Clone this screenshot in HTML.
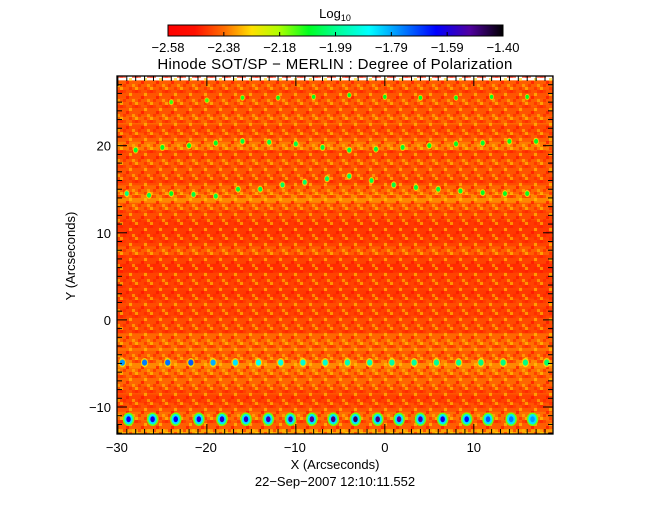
<!DOCTYPE html>
<html><head><meta charset="utf-8"><style>
body{margin:0;background:#fff;}
svg{display:block;font-family:"Liberation Sans",sans-serif;}
</style></head><body>
<svg id="chart" width="670" height="512" viewBox="0 0 670 512">
<defs>
<linearGradient id="cmap" x1="0" x2="1" y1="0" y2="0">
<stop offset="0" stop-color="#ff0000"/><stop offset="0.08" stop-color="#ff1000"/>
<stop offset="0.17" stop-color="#ff7000"/><stop offset="0.25" stop-color="#ffe000"/>
<stop offset="0.33" stop-color="#b0ff00"/><stop offset="0.42" stop-color="#00ff20"/>
<stop offset="0.5" stop-color="#00ff90"/><stop offset="0.6" stop-color="#00ffff"/>
<stop offset="0.7" stop-color="#0080ff"/><stop offset="0.8" stop-color="#0000ff"/>
<stop offset="0.9" stop-color="#5000a0"/><stop offset="1" stop-color="#000000"/>
</linearGradient>
<pattern id="tex" width="15" height="15" patternUnits="userSpaceOnUse">
<rect x="0" y="0" width="3" height="3" fill="#ff1800" opacity="0.7"/>
<rect x="3" y="0" width="3" height="3" fill="#ff3000" opacity="0.6"/>
<rect x="9" y="3" width="3" height="3" fill="#ffd800" opacity="0.6"/>
<rect x="6" y="6" width="3" height="3" fill="#ff1000" opacity="0.7"/>
<rect x="12" y="9" width="3" height="3" fill="#ffc000" opacity="0.6"/>
<rect x="0" y="12" width="3" height="3" fill="#ffe800" opacity="0.5"/>
<rect x="3" y="9" width="3" height="3" fill="#ff2000" opacity="0.6"/>
<rect x="12" y="0" width="3" height="3" fill="#ff2800" opacity="0.6"/>
<rect x="9" y="12" width="3" height="3" fill="#ff2000" opacity="0.6"/>
</pattern>
<clipPath id="plotclip"><rect x="117" y="76" width="436" height="358"/></clipPath>
</defs>
<g id="heat" clip-path="url(#plotclip)"></g>
<rect x="117" y="76" width="436" height="358" fill="url(#tex)"/>
<g id="spots" clip-path="url(#plotclip)"></g>
<rect x="117" y="76" width="436" height="358" fill="none" stroke="#000" stroke-width="1.3"/>
<g id="axes"></g>
<text x="335" y="18" text-anchor="middle" font-size="13">Log<tspan font-size="9" dy="3">10</tspan></text>
<rect x="168" y="25" width="335" height="11" fill="url(#cmap)" stroke="#000" stroke-width="1"/>
<g id="cbar"></g>
<text x="335" y="69" text-anchor="middle" font-size="15" letter-spacing="0.3">Hinode SOT/SP − MERLIN : Degree of Polarization</text>
<text x="335" y="469" text-anchor="middle" font-size="13">X (Arcseconds)</text>
<text x="335" y="486" text-anchor="middle" font-size="13">22−Sep−2007 12:10:11.552</text>
<text x="0" y="0" transform="translate(75,256) rotate(-90)" text-anchor="middle" font-size="13">Y (Arcseconds)</text>
</svg>
<script>
const cbarLabels=["−2.58","−2.38","−2.18","−1.99","−1.79","−1.59","−1.40"];
const xTicks=[-30,-20,-10,0,10];
const yTicks=[-10,0,10,20];
const bandY=[-13,-12,-11,-10,-9,-8,-7,-6,-5,-4,-3,-2,-1,0,1,2,3,4,5,6,7,8,9,10,11,12,13,14,15,16,17,18,19,20,21,22,23,24,25,26,27];
const bandVal=[-2.34,-2.40,-2.38,-2.41,-2.43,-2.41,-2.39,-2.38,-2.36,-2.40,-2.38,-2.39,-2.42,-2.42,-2.43,-2.42,-2.44,-2.43,-2.43,-2.45,-2.43,-2.40,-2.43,-2.44,-2.44,-2.42,-2.40,-2.36,-2.39,-2.42,-2.41,-2.40,-2.42,-2.37,-2.40,-2.42,-2.39,-2.41,-2.40,-2.41,-2.40];
const spot1X=[-28.8,-26.1,-23.5,-20.9,-18.3,-15.6,-13.1,-10.6,-8.2,-5.8,-3.3,-0.8,1.6,4.0,6.5,9.2,11.6,14.2,16.6];
const spot1Val=[-1.62,-1.6,-1.62,-1.6,-1.58,-1.57,-1.56,-1.55,-1.52,-1.5,-1.48,-1.5,-1.52,-1.55,-1.6,-1.65,-1.72,-1.75,-1.78];
const spot1Y=-11.4;
const spot2X=[-29.5,-27,-24.4,-21.8,-19.3,-16.8,-14.2,-11.7,-9.2,-6.7,-4.2,-1.7,0.8,3.3,5.8,8.3,10.8,13.3,15.8,18.2];
const spot2Val=[-1.78,-1.75,-1.74,-1.72,-1.8,-1.85,-1.88,-1.9,-1.92,-1.92,-1.95,-1.95,-1.97,-1.97,-1.98,-1.98,-2.0,-2.0,-2.0,-2.02];
const spot2Y=-4.9;
const spot3X=[-29,-26.5,-24,-21.5,-19,-16.5,-14,-11.5,-9,-6.5,-4,-1.5,1,3.5,6,8.5,11,13.5,16];
const spot3Y=[14.5,14.3,14.5,14.4,14.2,15,15,15.5,15.8,16.2,16.5,16,15.5,15.2,15,14.8,14.6,14.5,14.5];
const spot3Val=[-2.0,-2.05,-2.08,-2.05,-2.05,-2.06,-2.05,-2.03,-2.02,-2.03,-2.03,-2.05,-2.05,-2.06,-2.06,-2.07,-2.08,-2.08,-2.08];
const spot4X=[-28,-25,-22,-19,-16,-13,-10,-7,-4,-1,2,5,8,11,14,17];
const spot4Y=[19.5,19.8,20,20.3,20.5,20.4,20.2,19.8,19.5,19.6,19.8,20,20.2,20.3,20.5,20.5];
const spot4Val=[-2.07,-2.08,-2.08,-2.08,-2.06,-2.05,-2.05,-2.06,-2.05,-2.06,-2.07,-2.08,-2.08,-2.07,-2.08,-2.08];
const spot5X=[-24,-20,-16,-12,-8,-4,0,4,8,12,16];
const spot5Y=[25,25.2,25.5,25.5,25.6,25.8,25.6,25.5,25.5,25.6,25.6];
const spot5Val=[-2.12,-2.12,-2.1,-2.08,-2.08,-2.08,-2.08,-2.08,-2.08,-2.08,-2.08];

const X0=117,X1=553,Y0=76,Y1=434,xmin=-30.1,xmax=18.9,ymin=-13.1,ymax=28.0;
const sx=v=>X0+(v-xmin)/(xmax-xmin)*(X1-X0);
const sy=v=>Y1-(v-ymin)/(ymax-ymin)*(Y1-Y0);
const NS='http://www.w3.org/2000/svg';
const stops=[[0,255,0,0],[0.08,255,16,0],[0.17,255,112,0],[0.25,255,224,0],[0.33,176,255,0],[0.42,0,255,32],[0.5,0,255,144],[0.6,0,255,255],[0.7,0,128,255],[0.8,0,0,255],[0.9,80,0,160],[1,0,0,0]];
function color(v){let t=(v+2.58)/(2.58-1.40);t=Math.max(0,Math.min(1,t));
for(let i=1;i<stops.length;i++){if(t<=stops[i][0]){const a=stops[i-1],b=stops[i],f=(t-a[0])/(b[0]-a[0]);
return `rgb(${Math.round(a[1]+f*(b[1]-a[1]))},${Math.round(a[2]+f*(b[2]-a[2]))},${Math.round(a[3]+f*(b[3]-a[3]))})`;}}return '#000';}
function mk(tag,attrs,parent){const e=document.createElementNS(NS,tag);for(const k in attrs)e.setAttribute(k,attrs[k]);parent.appendChild(e);return e;}
const heat=document.getElementById('heat');
bandY.forEach((y,i)=>{const r=mk('rect',{x:X0,y:sy(y+0.5),width:X1-X0,height:sy(y-0.5)-sy(y+0.5)+0.5,fill:color(bandVal[i])},heat);

});
const spots=document.getElementById('spots');
function bigSpot(x,y,v,r){
const ring=mk('ellipse',{cx:sx(x),cy:sy(y),rx:r*1.15,ry:r*1.35,fill:color(-2.15)},spots);


const mid=mk('ellipse',{cx:sx(x),cy:sy(y),rx:r*0.85,ry:r*1.05,fill:color(-1.85)},spots);


const c=mk('ellipse',{cx:sx(x),cy:sy(y),rx:r*0.45,ry:r*0.6,fill:color(v)},spots);

}
function smallSpot(x,y,v,r){
const h=mk('ellipse',{cx:sx(x),cy:sy(y),rx:r*1.4,ry:r*1.8,fill:color(-2.28),opacity:0.8},spots);


const c=mk('ellipse',{cx:sx(x),cy:sy(y),rx:r,ry:r*1.2,fill:color(v)},spots);

}
spot1X.forEach((x,i)=>bigSpot(x,spot1Y,spot1Val[i],5));
spot2X.forEach((x,i)=>smallSpot(x,spot2Y,spot2Val[i],2.6));
spot3X.forEach((x,i)=>smallSpot(x,spot3Y[i],spot3Val[i],2));
spot4X.forEach((x,i)=>smallSpot(x,spot4Y[i],spot4Val[i],2));
spot5X.forEach((x,i)=>smallSpot(x,spot5Y[i],spot5Val[i],1.7));
const axes=document.getElementById('axes');
for(let v=-30;v<=18;v++){const maj=v%10===0,L=maj?10:5;
[[Y1,Y1-L],[Y0,Y0+L]].forEach(p=>{const t=mk('line',{x1:sx(v),x2:sx(v),y1:p[0],y2:p[1],stroke:'#000','stroke-width':1},axes);

});}
for(let v=-13;v<=28;v++){const maj=v%10===0,L=maj?10:5;
[[X0,X0+L],[X1,X1-L]].forEach(p=>{const t=mk('line',{y1:sy(v),y2:sy(v),x1:p[0],x2:p[1],stroke:'#000','stroke-width':1},axes);

});}
xTicks.forEach(v=>{const t=mk('text',{x:sx(v)+(v<0?-1:0),y:Y1+18,'text-anchor':'middle','font-size':13},axes);t.textContent=v<0?'−'+(-v):String(v);

});
yTicks.forEach(v=>{const t=mk('text',{x:X0-6,y:sy(v)+5,'text-anchor':'end','font-size':13},axes);t.textContent=v<0?'−'+(-v):String(v);

});
const cb=document.getElementById('cbar');
cbarLabels.forEach((s,i)=>{const x=168+i*335/6;
const t=mk('text',{x:x,y:52,'text-anchor':'middle','font-size':13},cb);t.textContent=s;


const k=mk('line',{x1:x,x2:x,y1:36,y2:32,stroke:'#000'},cb);

});
</script>
</body></html>
